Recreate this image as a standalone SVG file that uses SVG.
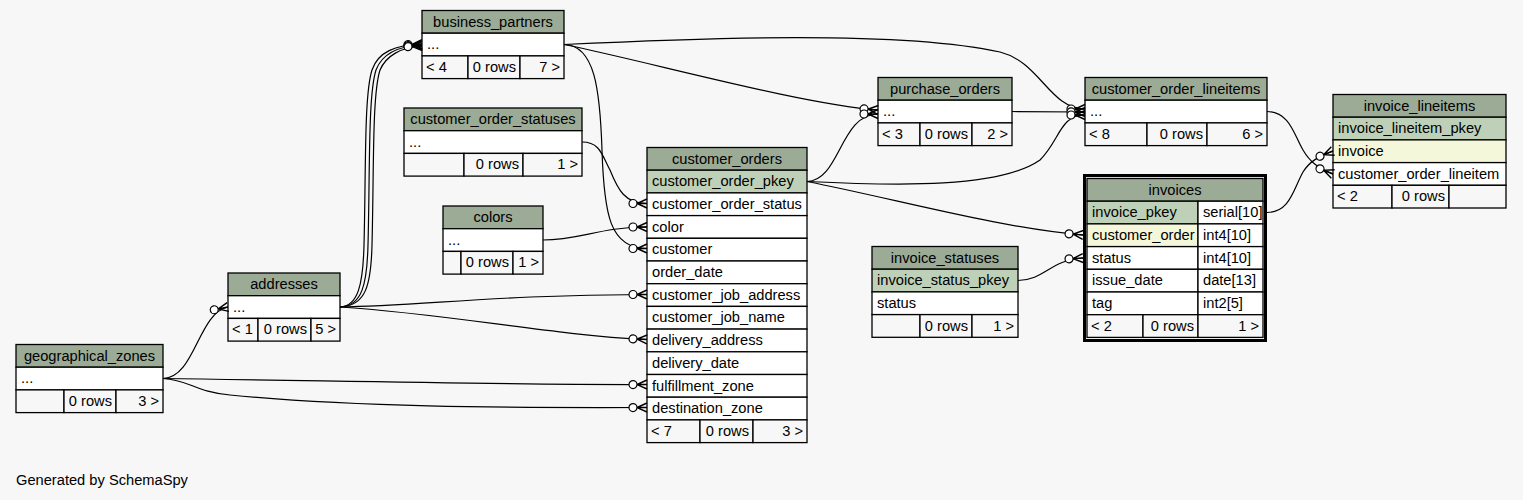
<svg xmlns="http://www.w3.org/2000/svg" width="1523" height="500" viewBox="0 0 1523 500">
<style>
.hdr{fill:#9bab96;stroke:#000;stroke-width:1.3}
.pk{fill:#bed1b8;stroke:#000;stroke-width:1.3}
.fk{fill:#f4f7da;stroke:#000;stroke-width:1.3}
.row{fill:#fff;stroke:#000;stroke-width:1.3}
.ft{fill:#f7f7f7;stroke:#000;stroke-width:1.3}
text{font-family:"Liberation Sans",Arial,Helvetica,sans-serif;font-size:14.67px;fill:#000}
.c{text-anchor:middle}
.r{text-anchor:end}
.e{fill:none;stroke:#000;stroke-width:1.2;marker-end:url(#crow)}
</style>
<defs>
<marker id="crow" markerUnits="userSpaceOnUse" viewBox="-20 -7 21 14" refX="0" refY="0" markerWidth="21" markerHeight="14" orient="auto" overflow="visible">
<path d="M0,-4.5 L-10,0 L0,4.5 M-10,0 L0,0" fill="none" stroke="#000" stroke-width="1.4"/>
<circle cx="-14" cy="0" r="4" fill="#fff" stroke="#000" stroke-width="1.2"/>
</marker>
</defs>
<rect x="0" y="0" width="1523" height="500" fill="#f7f7f7"/>

<g id="business_partners">
<rect class="hdr" x="422" y="10.5" width="142" height="22.7"/>
<text class="c" x="493" y="26.5">business_partners</text>
<rect class="row" x="422" y="33.2" width="142" height="22.7"/>
<text x="427" y="49.2">...</text>
<rect class="ft" x="422" y="55.9" width="46" height="22.7"/>
<rect class="ft" x="468" y="55.9" width="52" height="22.7"/>
<rect class="ft" x="520" y="55.9" width="44" height="22.7"/>
<text x="426" y="71.9">&lt; 4</text>
<text class="r" x="516" y="71.9">0 rows</text>
<text class="r" x="560" y="71.9">7 &gt;</text>
</g>

<g id="customer_order_statuses">
<rect class="hdr" x="404" y="108" width="178" height="22.7"/>
<text class="c" x="493" y="124">customer_order_statuses</text>
<rect class="row" x="404" y="130.7" width="178" height="22.7"/>
<text x="409" y="146.7">...</text>
<rect class="ft" x="404" y="153.4" width="60" height="22.7"/>
<rect class="ft" x="464" y="153.4" width="59" height="22.7"/>
<rect class="ft" x="523" y="153.4" width="59" height="22.7"/>
<text class="r" x="519" y="169.4">0 rows</text>
<text class="r" x="578" y="169.4">1 &gt;</text>
</g>

<g id="colors">
<rect class="hdr" x="443" y="206" width="100" height="22.7"/>
<text class="c" x="493" y="222">colors</text>
<rect class="row" x="443" y="228.7" width="100" height="22.7"/>
<text x="448" y="244.7">...</text>
<rect class="ft" x="443" y="251.4" width="18" height="22.7"/>
<rect class="ft" x="461" y="251.4" width="52" height="22.7"/>
<rect class="ft" x="513" y="251.4" width="30" height="22.7"/>
<text class="r" x="509" y="267.4">0 rows</text>
<text class="r" x="539" y="267.4">1 &gt;</text>
</g>

<g id="addresses">
<rect class="hdr" x="228" y="273" width="112" height="22.7"/>
<text class="c" x="284" y="289">addresses</text>
<rect class="row" x="228" y="295.7" width="112" height="22.7"/>
<text x="233" y="311.7">...</text>
<rect class="ft" x="228" y="318.4" width="30" height="22.7"/>
<rect class="ft" x="258" y="318.4" width="53" height="22.7"/>
<rect class="ft" x="311" y="318.4" width="29" height="22.7"/>
<text x="232" y="334.4">&lt; 1</text>
<text class="r" x="307" y="334.4">0 rows</text>
<text class="r" x="336" y="334.4">5 &gt;</text>
</g>

<g id="geographical_zones">
<rect class="hdr" x="16" y="344.5" width="147" height="22.7"/>
<text class="c" x="89.5" y="360.5">geographical_zones</text>
<rect class="row" x="16" y="367.2" width="147" height="22.7"/>
<text x="21" y="383.2">...</text>
<rect class="ft" x="16" y="389.9" width="48" height="22.7"/>
<rect class="ft" x="64" y="389.9" width="52" height="22.7"/>
<rect class="ft" x="116" y="389.9" width="47" height="22.7"/>
<text class="r" x="112" y="405.9">0 rows</text>
<text class="r" x="159" y="405.9">3 &gt;</text>
</g>

<g id="customer_orders">
<rect class="hdr" x="647" y="147.5" width="160" height="22.7"/>
<text class="c" x="727" y="163.5">customer_orders</text>
<rect class="pk" x="647" y="170.2" width="160" height="22.7"/>
<text x="652" y="186.2">customer_order_pkey</text>
<rect class="row" x="647" y="192.9" width="160" height="22.7"/>
<text x="652" y="208.9">customer_order_status</text>
<rect class="row" x="647" y="215.6" width="160" height="22.7"/>
<text x="652" y="231.6">color</text>
<rect class="row" x="647" y="238.3" width="160" height="22.7"/>
<text x="652" y="254.3">customer</text>
<rect class="row" x="647" y="261" width="160" height="22.7"/>
<text x="652" y="277">order_date</text>
<rect class="row" x="647" y="283.7" width="160" height="22.7"/>
<text x="652" y="299.7">customer_job_address</text>
<rect class="row" x="647" y="306.4" width="160" height="22.7"/>
<text x="652" y="322.4">customer_job_name</text>
<rect class="row" x="647" y="329.1" width="160" height="22.7"/>
<text x="652" y="345.1">delivery_address</text>
<rect class="row" x="647" y="351.8" width="160" height="22.7"/>
<text x="652" y="367.8">delivery_date</text>
<rect class="row" x="647" y="374.5" width="160" height="22.7"/>
<text x="652" y="390.5">fulfillment_zone</text>
<rect class="row" x="647" y="397.2" width="160" height="22.7"/>
<text x="652" y="413.2">destination_zone</text>
<rect class="ft" x="647" y="419.9" width="53" height="22.7"/>
<rect class="ft" x="700" y="419.9" width="53" height="22.7"/>
<rect class="ft" x="753" y="419.9" width="54" height="22.7"/>
<text x="651" y="435.9">&lt; 7</text>
<text class="r" x="749" y="435.9">0 rows</text>
<text class="r" x="803" y="435.9">3 &gt;</text>
</g>

<g id="purchase_orders">
<rect class="hdr" x="878" y="77.5" width="134" height="22.7"/>
<text class="c" x="945" y="93.5">purchase_orders</text>
<rect class="row" x="878" y="100.2" width="134" height="22.7"/>
<text x="883" y="116.2">...</text>
<rect class="ft" x="878" y="122.9" width="42" height="22.7"/>
<rect class="ft" x="920" y="122.9" width="52" height="22.7"/>
<rect class="ft" x="972" y="122.9" width="40" height="22.7"/>
<text x="882" y="138.9">&lt; 3</text>
<text class="r" x="968" y="138.9">0 rows</text>
<text class="r" x="1008" y="138.9">2 &gt;</text>
</g>

<g id="customer_order_lineitems">
<rect class="hdr" x="1085" y="77.5" width="182" height="22.7"/>
<text class="c" x="1176" y="93.5">customer_order_lineitems</text>
<rect class="row" x="1085" y="100.2" width="182" height="22.7"/>
<text x="1090" y="116.2">...</text>
<rect class="ft" x="1085" y="122.9" width="62" height="22.7"/>
<rect class="ft" x="1147" y="122.9" width="60" height="22.7"/>
<rect class="ft" x="1207" y="122.9" width="60" height="22.7"/>
<text x="1089" y="138.9">&lt; 8</text>
<text class="r" x="1203" y="138.9">0 rows</text>
<text class="r" x="1263" y="138.9">6 &gt;</text>
</g>

<g id="invoice_statuses">
<rect class="hdr" x="872" y="246.5" width="146" height="22.7"/>
<text class="c" x="945" y="262.5">invoice_statuses</text>
<rect class="pk" x="872" y="269.2" width="146" height="22.7"/>
<text x="877" y="285.2">invoice_status_pkey</text>
<rect class="row" x="872" y="291.9" width="146" height="22.7"/>
<text x="877" y="307.9">status</text>
<rect class="ft" x="872" y="314.6" width="48" height="22.7"/>
<rect class="ft" x="920" y="314.6" width="52" height="22.7"/>
<rect class="ft" x="972" y="314.6" width="46" height="22.7"/>
<text class="r" x="968" y="330.6">0 rows</text>
<text class="r" x="1014" y="330.6">1 &gt;</text>
</g>

<g id="invoices">
<rect x="1084.5" y="175.5" width="181" height="165" fill="#f7f7f7" stroke="#000" stroke-width="3"/>
<rect class="hdr" x="1087" y="178.5" width="176" height="22.7"/>
<text class="c" x="1175" y="194.5">invoices</text>
<rect class="pk" x="1087" y="201.2" width="111" height="22.7"/>
<rect class="row" x="1198" y="201.2" width="65" height="22.7"/>
<text x="1092" y="217.2">invoice_pkey</text>
<text x="1203" y="217.2">serial[10]</text>
<rect class="fk" x="1087" y="223.9" width="111" height="22.7"/>
<rect class="row" x="1198" y="223.9" width="65" height="22.7"/>
<text x="1092" y="239.9">customer_order</text>
<text x="1203" y="239.9">int4[10]</text>
<rect class="row" x="1087" y="246.6" width="111" height="22.7"/>
<rect class="row" x="1198" y="246.6" width="65" height="22.7"/>
<text x="1092" y="262.6">status</text>
<text x="1203" y="262.6">int4[10]</text>
<rect class="row" x="1087" y="269.3" width="111" height="22.7"/>
<rect class="row" x="1198" y="269.3" width="65" height="22.7"/>
<text x="1092" y="285.3">issue_date</text>
<text x="1203" y="285.3">date[13]</text>
<rect class="row" x="1087" y="292" width="111" height="22.7"/>
<rect class="row" x="1198" y="292" width="65" height="22.7"/>
<text x="1092" y="308">tag</text>
<text x="1203" y="308">int2[5]</text>
<rect class="ft" x="1087" y="314.7" width="56" height="22.7"/>
<rect class="ft" x="1143" y="314.7" width="55" height="22.7"/>
<rect class="ft" x="1198" y="314.7" width="65" height="22.7"/>
<text x="1091" y="330.7">&lt; 2</text>
<text class="r" x="1194" y="330.7">0 rows</text>
<text class="r" x="1259" y="330.7">1 &gt;</text>
</g>

<g id="invoice_lineitems">
<rect class="hdr" x="1333" y="94.5" width="173" height="22.7"/>
<text class="c" x="1419.5" y="110.5">invoice_lineitems</text>
<rect class="pk" x="1333" y="117.2" width="173" height="22.7"/>
<text x="1338" y="133.2">invoice_lineitem_pkey</text>
<rect class="fk" x="1333" y="139.9" width="173" height="22.7"/>
<text x="1338" y="155.9">invoice</text>
<rect class="row" x="1333" y="162.6" width="173" height="22.7"/>
<text x="1338" y="178.6">customer_order_lineitem</text>
<rect class="ft" x="1333" y="185.3" width="59" height="22.7"/>
<rect class="ft" x="1392" y="185.3" width="57" height="22.7"/>
<rect class="ft" x="1449" y="185.3" width="57" height="22.7"/>
<text x="1337" y="201.3">&lt; 2</text>
<text class="r" x="1445" y="201.3">0 rows</text>
</g>

<g id="connectors">
<path class="e" d="M340,307 C358,306 363,285 364,245 C366,170 364,95 372,70 C378,52 395,45 422,44"/>
<path class="e" d="M340,307 C362,306 367,285 368,245 C370,170 368,95 376,70 C382,54 398,46 422,45"/>
<path class="e" d="M340,307 C366,306 371,285 372,245 C374,170 372,95 380,70 C386,56 401,47 422,46"/>
<path class="e" d="M163,378.5 C195,378 198,313 228,307"/>
<path class="e" d="M163,378.5 C300,380 500,385 647,384.5"/>
<path class="e" d="M163,378.5 C190,380 195,392 230,395 C350,407 500,408 647,407.5"/>
<path class="e" d="M340,307 C420,306 500,294.5 647,294.5"/>
<path class="e" d="M340,307 C450,314 550,335 647,339.5"/>
<path class="e" d="M564,44.5 C595,45 600,90 602,150 C604,215 610,248.5 647,248.5"/>
<path class="e" d="M564,44.5 C650,62 800,104 878,110"/>
<path class="e" d="M807,181.5 C840,181 840,114 878,114"/>
<path class="e" d="M564,44.5 C700,38 900,30 1000,52 C1040,62 1050,109 1085,109"/>
<path class="e" d="M1012,111.5 L1085,112"/>
<path class="e" d="M807,181.5 C900,186 1000,188 1040,160 C1060,140 1060,115 1085,115"/>
<path class="e" d="M807,181.5 C900,200 1000,228 1083,235"/>
<path class="e" d="M1018,280.5 C1045,280 1050,260 1083,258"/>
<path class="e" d="M582,142 C600,142 602,155 610,170 C618,190 625,203.5 647,203.5"/>
<path class="e" d="M543,240 C580,240 600,227 647,227"/>
<path class="e" d="M1267,212.5 C1290,212 1293,190 1303,172 C1310,161 1318,157 1333,151"/>
<path class="e" d="M1267,111.5 C1290,112 1294,135 1303,150 C1310,162 1318,168 1333,174"/>
</g>

<text x="16" y="485">Generated by SchemaSpy</text>
</svg>
